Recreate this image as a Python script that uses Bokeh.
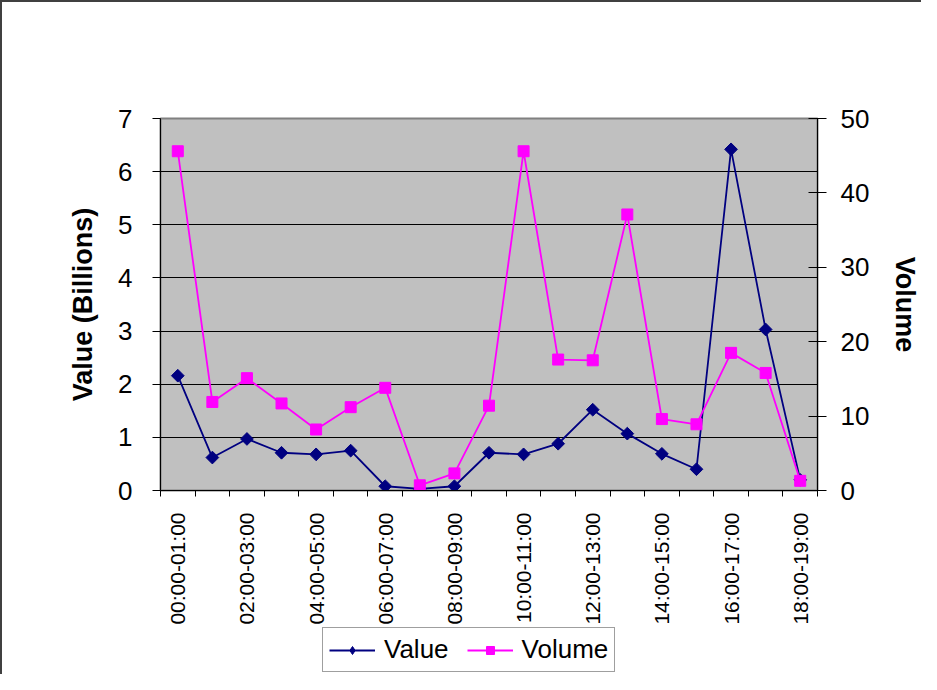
import numpy as np
from bokeh.plotting import figure
from bokeh.layouts import column
from bokeh.models import (Range1d, LinearAxis, FixedTicker, Legend, LegendItem)
from bokeh.embed import file_html
from bokeh.resources import INLINE

categories = ["00:00-01:00", "01:00-02:00", "02:00-03:00", "03:00-04:00",
              "04:00-05:00", "05:00-06:00", "06:00-07:00", "07:00-08:00",
              "08:00-09:00", "09:00-10:00", "10:00-11:00", "11:00-12:00",
              "12:00-13:00", "13:00-14:00", "14:00-15:00", "15:00-16:00",
              "16:00-17:00", "17:00-18:00", "18:00-19:00"]
value = [2.16, 0.62, 0.97, 0.71, 0.68, 0.75, 0.08, 0.03, 0.08, 0.71,
         0.68, 0.88, 1.52, 1.07, 0.69, 0.40, 6.42, 3.03, 0.20]
volume = [45.6, 11.9, 15.1, 11.7, 8.2, 11.2, 13.8, 0.7, 2.3, 11.4,
          45.6, 17.6, 17.5, 37.1, 9.6, 8.9, 18.5, 15.8, 1.3]
left_ticks = [0, 1, 2, 3, 4, 5, 6, 7]
right_ticks = [0, 10, 20, 30, 40, 50]

FONT = "Liberation Sans"
NAVY = "#000080"
MAGENTA = "#FF00FF"
n = len(categories)
xpos = [i + 0.5 for i in range(n)]

p = figure(width=921, height=626, output_backend="svg", toolbar_location=None,
           x_range=Range1d(0, n), y_range=Range1d(0, 7),
           min_border_left=158, min_border_right=101,
           min_border_top=116, min_border_bottom=138)
p.background_fill_color = "#C0C0C0"
p.border_fill_color = "white"
p.outline_line_color = "#808080"
p.outline_line_width = 2
p.styles = {"border-top": "2px solid #404040", "border-left": "2px solid #404040"}

p.extra_y_ranges = {"vol": Range1d(0, 50)}

# grid
p.xgrid.visible = False
p.ygrid.ticker = FixedTicker(ticks=left_ticks)
p.ygrid.grid_line_color = "black"
p.ygrid.grid_line_width = 1

# left axis
ya = p.yaxis[0]
ya.ticker = FixedTicker(ticks=left_ticks)
ya.axis_label = "Value (Billions)"
ya.axis_label_text_font = FONT
ya.axis_label_text_font_style = "bold"
ya.axis_label_text_font_size = "27px"
ya.axis_label_text_color = "black"
ya.axis_label_standoff = 17
ya.major_label_text_font = FONT
ya.major_label_text_font_size = "26px"
ya.major_label_text_color = "black"
ya.major_label_standoff = 20
ya.major_tick_in = 0
ya.major_tick_out = 8
ya.minor_tick_out = 0
ya.minor_tick_in = 0
ya.axis_line_color = "black"
ya.major_tick_line_color = "black"

# right axis
ra = LinearAxis(y_range_name="vol", ticker=FixedTicker(ticks=right_ticks))
ra.axis_label = "Volume"
ra.axis_label_text_font = FONT
ra.axis_label_text_font_style = "bold"
ra.axis_label_text_font_size = "27px"
ra.axis_label_text_color = "black"
ra.axis_label_standoff = 18
ra.major_label_text_font = FONT
ra.major_label_text_font_size = "26px"
ra.major_label_text_color = "black"
ra.major_label_standoff = 14
ra.major_tick_in = 9
ra.major_tick_out = 9
ra.minor_tick_in = 0
ra.minor_tick_out = 0
ra.axis_line_color = "black"
ra.major_tick_line_color = "black"
p.add_layout(ra, "right")

# bottom axis
xa = p.xaxis[0]
xa.ticker = FixedTicker(ticks=[xpos[i] for i in range(0, n, 2)],
                        minor_ticks=list(range(n + 1)))
xa.major_label_overrides = {xpos[i]: categories[i] for i in range(0, n, 2)}
xa.major_label_orientation = np.pi / 2
xa.major_label_text_font = FONT
xa.major_label_text_font_size = "21px"
xa.major_label_text_color = "black"
xa.major_label_standoff = 16
xa.major_tick_in = 0
xa.major_tick_out = 0
xa.minor_tick_in = 0
xa.minor_tick_out = 6
xa.minor_tick_line_color = "black"
xa.axis_line_color = "black"

# series
p.line(xpos, value, line_color=NAVY, line_width=1.8)
p.scatter(xpos, value, marker="square", angle=np.pi / 4, size=9,
          fill_color=NAVY, line_color=NAVY)
p.line(xpos, volume, y_range_name="vol", line_color=MAGENTA, line_width=1.8)
p.scatter(xpos, volume, y_range_name="vol", marker="square", size=11,
          fill_color=MAGENTA, line_color=MAGENTA)

# legend strip (separate small figure so the legend can sit below the axis)
lf = figure(width=921, height=48, output_backend="svg", toolbar_location=None,
            x_range=Range1d(0, 1), y_range=Range1d(-1, 0),
            min_border=0, min_border_left=0, min_border_right=0,
            min_border_top=0, min_border_bottom=0)
lf.axis.visible = False
lf.grid.visible = False
lf.outline_line_color = None
lf.background_fill_color = "white"
lf.border_fill_color = "white"
lf.styles = {"border-left": "2px solid #404040"}
# proxy renderers for the legend (their single data point lies outside this strip's range)
d1 = lf.line(xpos[:1], value[:1], line_color=NAVY, line_width=1.8)
s1 = lf.scatter(xpos[:1], value[:1], marker="diamond", size=15,
                fill_color=NAVY, line_color=NAVY)
d2 = lf.line(xpos[:1], volume[:1], line_color=MAGENTA, line_width=1.8)
s2 = lf.scatter(xpos[:1], volume[:1], marker="square", size=11,
                fill_color=MAGENTA, line_color=MAGENTA)

legend = Legend(items=[LegendItem(label="Value", renderers=[d1, s1]),
                       LegendItem(label="Volume", renderers=[d2, s2])],
                orientation="horizontal", location=(162, 2),
                label_text_font=FONT, label_text_font_size="26px",
                label_text_color="black",
                glyph_width=46, glyph_height=20, label_standoff=9,
                spacing=18, padding=6, margin=0,
                border_line_color="#404040", border_line_width=1,
                background_fill_color="white", background_fill_alpha=1)
lf.add_layout(legend, "center")

layout = column(p, lf, spacing=0)
open("out.html", "w").write(file_html(layout, INLINE))
